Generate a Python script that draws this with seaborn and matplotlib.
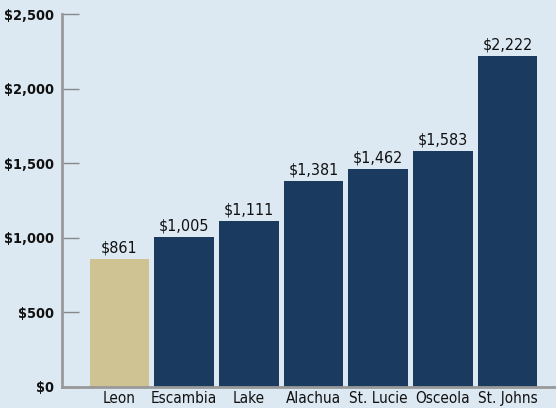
import seaborn as sns
import matplotlib.pyplot as plt
import pandas as pd

counties = ['Leon', 'Escambia', 'Lake', 'Alachua', 'St. Lucie', 'Osceola', 'St. Johns']
values = [861, 1005, 1111, 1381, 1462, 1583, 2222]
yticks = [0, 500, 1000, 1500, 2000, 2500]

bg = '#dce8f2'
navy = '#1b3a60'
tan = '#cfc293'

sns.set_style('white')
plt.rcParams['font.family'] = ['DejaVu Sans']
plt.rcParams['font.stretch'] = 'condensed'

df = pd.DataFrame({'county': counties, 'value': values})
colors = [tan] + [navy] * (len(counties) - 1)

fig = plt.figure(figsize=(5.56, 4.08), dpi=100, facecolor=bg)
ax = fig.add_axes([0.1115, 0.0515, 0.8885, 0.914])
ax.set_facecolor(bg)
sns.barplot(data=df, x='county', y='value', hue='county', palette=colors,
            width=0.92, legend=False, ax=ax, saturation=1, linewidth=0)

for i, v in enumerate(values):
    ax.text(i, v + 22, f'${v:,}', ha='center', va='bottom', fontsize=11.5,
            color='#111111', stretch='condensed')

ax.set_ylim(0, 2500)
ax.set_xlim(-0.89, 6.75)
ax.set_yticks(yticks)
ax.set_yticklabels([f'${t:,}' for t in yticks], fontweight='bold', fontsize=10.4,
                   stretch='condensed')
ax.tick_params(axis='y', left=True, direction='in', length=12, width=1,
               color='#888888', pad=6)
ax.tick_params(axis='x', length=0, labelsize=11, pad=3)
for lab in ax.get_xticklabels():
    lab.set_stretch('condensed')
    lab.set_color('#111111')
for lab in ax.get_yticklabels():
    lab.set_color('#111111')
ax.set_xlabel('')
ax.set_ylabel('')
for s in ['top', 'right']:
    ax.spines[s].set_visible(False)
for s in ['left', 'bottom']:
    ax.spines[s].set_color('#999999')
    ax.spines[s].set_linewidth(2)

fig.savefig('out.png', dpi=100, facecolor=bg)
